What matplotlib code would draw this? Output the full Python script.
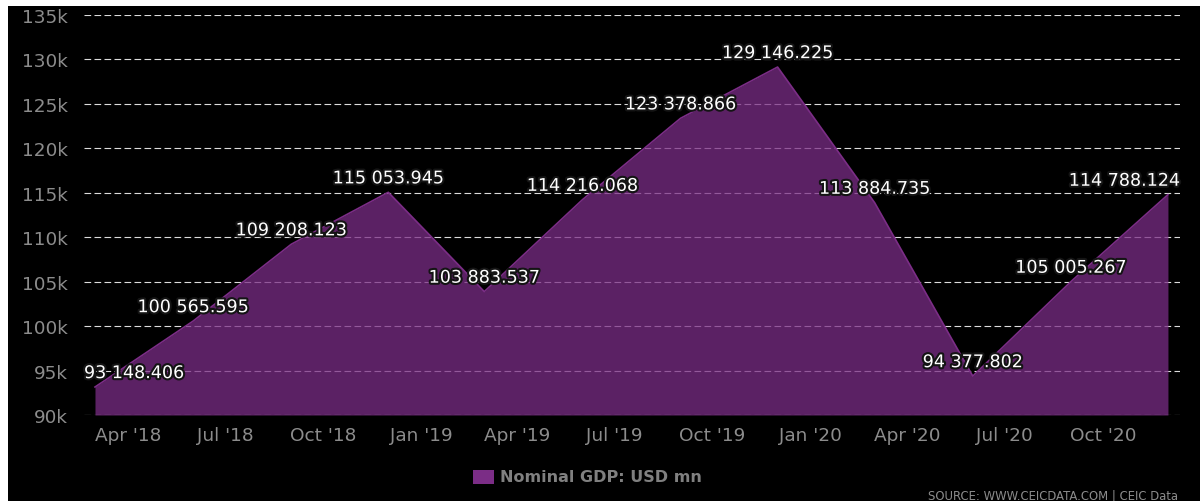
import matplotlib.pyplot as plt
import matplotlib.dates as mdates
import matplotlib.patheffects as pe
from matplotlib.patches import Rectangle
import numpy as np
import datetime as dt

dates = [dt.date(2018, 3, 1), dt.date(2018, 6, 1), dt.date(2018, 9, 1), dt.date(2018, 12, 1),
         dt.date(2019, 3, 1), dt.date(2019, 6, 1), dt.date(2019, 9, 1), dt.date(2019, 12, 1),
         dt.date(2020, 3, 1), dt.date(2020, 6, 1), dt.date(2020, 9, 1), dt.date(2020, 12, 1)]
gdp = [93148.406, 100565.595, 109208.123, 115053.945,
       103883.537, 114216.068, 123378.866, 129146.225,
       113884.735, 94377.802, 105005.267, 114788.124]
series_name = "Nominal GDP: USD mn"
source_text = "SOURCE: WWW.CEICDATA.COM | CEIC Data"

W, H = 1200, 502
fig = plt.figure(figsize=(W / 100, H / 100), dpi=100, facecolor="white")
fig.patches.append(Rectangle((8 / W, 0), 1 - 8 / W, 1 - 7 / H, transform=fig.transFigure,
                             facecolor="black", edgecolor="none", zorder=-5))

ax = fig.add_axes([84 / W, 1 - 416 / H, (1180 - 84) / W, (416 - 16) / H])
ax.set_facecolor("none")

x = mdates.date2num(dates)
ax.set_xlim(x[0] - 10.3, x[-1] + 11.3)
ax.set_ylim(90000, 135000)

purple = "#7b2d86"
ax.fill_between(x, gdp, 90000, color=purple, alpha=0.75, lw=0, zorder=2)
ax.plot(x, gdp, color=purple, lw=1.2, zorder=3)

grid_style = dict(color="#dcdcdc", lw=0.8, linestyle=(0, (6, 3)))
for v in np.arange(90000, 135001, 5000):
    ax.axhline(v, zorder=1 if v > 90000 else 4, **grid_style)

for s in ax.spines.values():
    s.set_visible(False)

ax.set_yticks(np.arange(90000, 135001, 5000))
ax.yaxis.set_major_formatter(plt.FuncFormatter(lambda v, p: f"{v / 1000:.0f}k"))
ax.xaxis.set_major_locator(mdates.MonthLocator(bymonth=[1, 4, 7, 10]))
ax.xaxis.set_major_formatter(mdates.DateFormatter("%b '%y"))
ax.tick_params(axis="both", length=0, labelsize=13.3, labelcolor="#8c8c8c")
ax.tick_params(axis="y", pad=11.5)
ax.tick_params(axis="x", pad=8)

outline = [pe.withStroke(linewidth=3, foreground="#141414")]
xl = ax.get_xlim()
for i, (xi, v) in enumerate(zip(x, gdp)):
    whole, frac = f"{v:.3f}".split(".")
    txt = f"{int(whole):,}".replace(",", " ") + "." + frac
    if i == 0:
        xp, ha = xl[0], "left"
    elif i == len(x) - 1:
        xp, ha = xl[1], "right"
    else:
        xp, ha = xi, "center"
    ax.annotate(txt, (xp, v), xytext=(0, 10), textcoords="offset points",
                ha=ha, va="center", fontsize=12.6, color="white",
                path_effects=outline, zorder=6, annotation_clip=False)

# legend
fig.patches.append(Rectangle((473 / W, 1 - 485 / H), 21 / W, 14 / H, transform=fig.transFigure,
                             facecolor=purple, edgecolor="none", zorder=5))
fig.text(500 / W, 1 - 478 / H, series_name, ha="left", va="center",
         fontsize=11.5, fontweight="bold", color="#808080")
fig.text(1178 / W, 1 - 496 / H, source_text, ha="right", va="center",
         fontsize=8.4, color="#8c8c8c")

fig.savefig("out.png", dpi=100, facecolor="white")
